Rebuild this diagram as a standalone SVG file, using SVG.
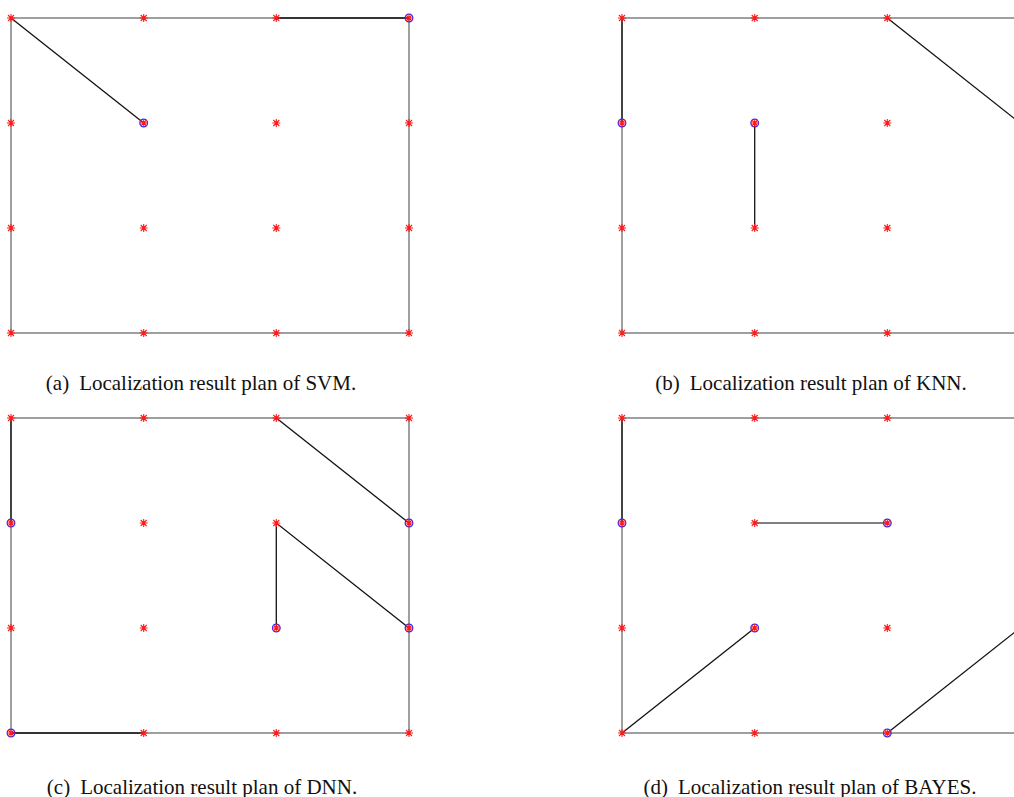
<svg xmlns="http://www.w3.org/2000/svg" xmlns:xlink="http://www.w3.org/1999/xlink" width="1014" height="797" viewBox="0 0 1014 797">
<style>
.frame{fill:none;stroke:#808080;stroke-width:1.5}
.path{fill:none;stroke:#111;stroke-width:1.3}
.path2{fill:none;stroke:#555;stroke-width:1.6}
.cap{font-family:"Liberation Serif",serif;font-size:21px;fill:#111;text-anchor:middle}
</style>
<defs>
<g id="ast" stroke="#ff1a1a" stroke-width="1.1" fill="none">
<path d="M-4,0H4M0,-4V4M-3,-3L3,3M-3,3L3,-3"/>
</g>
<g id="cir"><circle r="3.8" fill="none" stroke="#2a2aff" stroke-width="1.3"/></g>
<g id="grid">
<use xlink:href="#ast" x="0" y="0"/><use xlink:href="#ast" x="132.7" y="0"/><use xlink:href="#ast" x="265.3" y="0"/><use xlink:href="#ast" x="398" y="0"/>
<use xlink:href="#ast" x="0" y="105"/><use xlink:href="#ast" x="132.7" y="105"/><use xlink:href="#ast" x="265.3" y="105"/><use xlink:href="#ast" x="398" y="105"/>
<use xlink:href="#ast" x="0" y="210"/><use xlink:href="#ast" x="132.7" y="210"/><use xlink:href="#ast" x="265.3" y="210"/><use xlink:href="#ast" x="398" y="210"/>
<use xlink:href="#ast" x="0" y="315"/><use xlink:href="#ast" x="132.7" y="315"/><use xlink:href="#ast" x="265.3" y="315"/><use xlink:href="#ast" x="398" y="315"/>
</g>
</defs>

<g id="panel-a">
<rect class="frame" x="11" y="18" width="398" height="315"/>
<g id="connectors-a">
<path class="path" d="M11,18L143.7,123"/>
<path class="path" d="M276.3,18H409"/>
</g>
<use xlink:href="#cir" x="143.7" y="123"/><use xlink:href="#cir" x="409" y="18"/>
<use xlink:href="#grid" x="11" y="18"/>
<text class="cap" x="201" y="390">(a)<tspan dx="10">Localization result plan of SVM.</tspan></text>
</g>

<g id="panel-b">
<rect class="frame" x="622" y="18" width="398" height="315"/>
<g id="connectors-b">
<path class="path" d="M622,18V123"/>
<path class="path" d="M754.7,123V228"/>
<path class="path" d="M887.3,18L1020,123"/>
</g>
<use xlink:href="#cir" x="622" y="123"/><use xlink:href="#cir" x="754.7" y="123"/><use xlink:href="#cir" x="1020" y="123"/>
<use xlink:href="#grid" x="622" y="18"/>
<text class="cap" x="811" y="390">(b)<tspan dx="10">Localization result plan of KNN.</tspan></text>
</g>

<g id="panel-c">
<rect class="frame" x="11" y="418" width="398" height="315"/>
<g id="connectors-c">
<path class="path" d="M11,418V523"/>
<path class="path" d="M276.3,418L409,523"/>
<path class="path" d="M276.3,628V523L409,628"/>
<path class="path" d="M11,733H143.7"/>
</g>
<use xlink:href="#cir" x="11" y="523"/><use xlink:href="#cir" x="409" y="523"/><use xlink:href="#cir" x="276.3" y="628"/><use xlink:href="#cir" x="409" y="628"/><use xlink:href="#cir" x="11" y="733"/>
<use xlink:href="#grid" x="11" y="418"/>
<text class="cap" x="202" y="794">(c)<tspan dx="10">Localization result plan of DNN.</tspan></text>
</g>

<g id="panel-d">
<rect class="frame" x="622" y="418" width="398" height="315"/>
<g id="connectors-d">
<path class="path" d="M622,418V523"/>
<path class="path2" d="M754.7,523H887.3"/>
<path class="path" d="M622,733L754.7,628"/>
<path class="path" d="M887.3,733L1020,628"/>
</g>
<use xlink:href="#cir" x="622" y="523"/><use xlink:href="#cir" x="887.3" y="523"/><use xlink:href="#cir" x="754.7" y="628"/><use xlink:href="#cir" x="887.3" y="733"/>
<use xlink:href="#grid" x="622" y="418"/>
<text class="cap" x="810" y="794">(d)<tspan dx="10">Localization result plan of BAYES.</tspan></text>
</g>
</svg>
